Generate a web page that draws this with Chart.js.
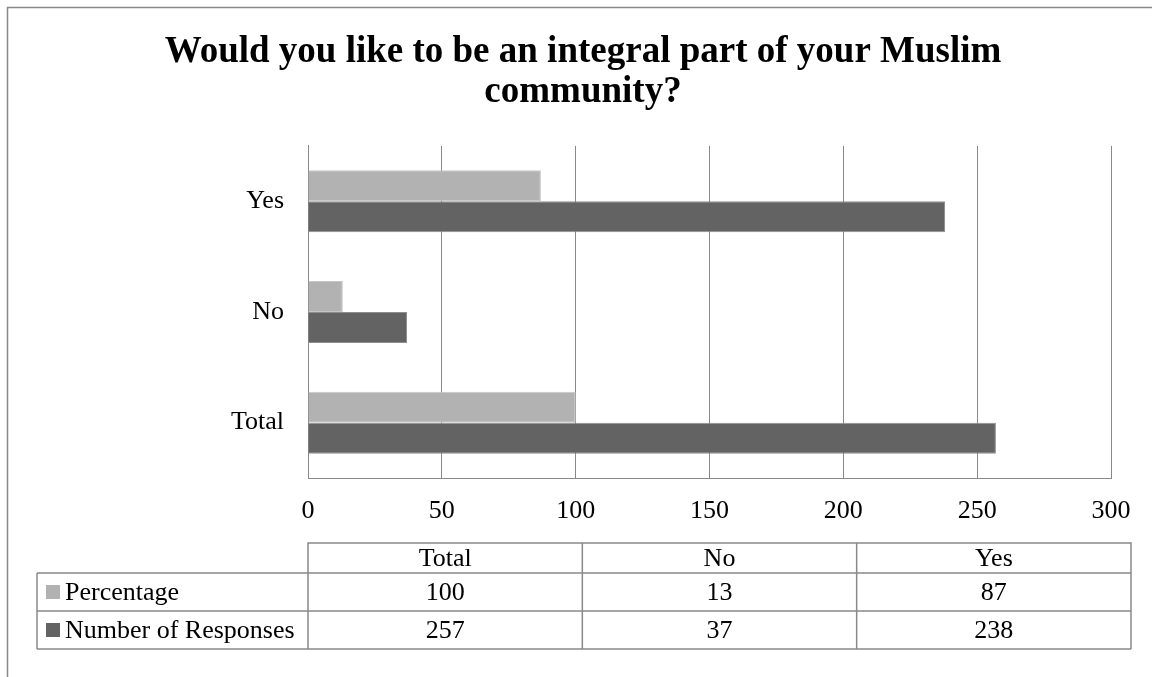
<!DOCTYPE html>
<html>
<head>
<meta charset="utf-8">
<title>Integral part of the Muslim community</title>
<script src="https://cdn.jsdelivr.net/npm/chart.js@4/dist/chart.umd.min.js"></script>
<style>
  html, body { margin: 0; padding: 0; background: #fff; }
  #wrap { width: 1152px; height: 677px; }
</style>
</head>
<body>
<div id="wrap"><canvas id="chart" width="1152" height="677"></canvas></div>
<script>
// survey answers, bottom to top on the chart and left to right in the table
const categories = ["Total", "No", "Yes"];
const percentage = [100, 13, 87];
const responses = [257, 37, 238];
const seriesNames = ["Percentage", "Number of Responses"];
const seriesColors = ["#b2b2b2", "#636363"];
const xTicks = [0, 50, 100, 150, 200, 250, 300];

const serif = "'Liberation Serif', 'Times New Roman', serif";
const lineColor = "#898989";

// open frame round the whole figure (top and left edges only)
const framePlugin = {
  id: "frame",
  beforeDraw(chart) {
    const ctx = chart.ctx;
    ctx.save();
    ctx.strokeStyle = lineColor;
    ctx.lineWidth = 1.5;
    ctx.beginPath();
    ctx.moveTo(7.5, chart.height);
    ctx.lineTo(7.5, 7.5);
    ctx.lineTo(chart.width, 7.5);
    ctx.stroke();
    ctx.restore();
  },
};

// data table under the x axis, with the legend keys in the first column
const tablePlugin = {
  id: "dataTable",
  afterDraw(chart) {
    const ctx = chart.ctx;
    const area = chart.chartArea;
    const left = area.left;
    const right = area.right + 20;
    const colW = (right - left) / categories.length;
    const top = chart.scales.x.bottom + 15;
    const headH = 30;
    const rowH = 38;
    const keyLeft = 37;
    const rows = [percentage, responses];
    const bottom = top + headH + rowH * rows.length;

    ctx.save();
    ctx.strokeStyle = lineColor;
    ctx.lineWidth = 1.5;
    ctx.beginPath();
    // header box
    ctx.moveTo(left, bottom);
    ctx.lineTo(left, top);
    ctx.lineTo(right, top);
    ctx.lineTo(right, bottom);
    // horizontal rules
    for (let r = 0; r <= rows.length; r++) {
      const y = top + headH + r * rowH;
      ctx.moveTo(keyLeft, y);
      ctx.lineTo(right, y);
    }
    ctx.moveTo(keyLeft, top + headH);
    ctx.lineTo(keyLeft, bottom);
    for (let c = 1; c < categories.length; c++) {
      ctx.moveTo(left + c * colW, top);
      ctx.lineTo(left + c * colW, bottom);
    }
    ctx.stroke();

    ctx.fillStyle = "#000";
    ctx.font = "26px " + serif;
    ctx.textBaseline = "middle";
    ctx.textAlign = "center";
    categories.forEach((cat, c) => {
      ctx.fillText(cat, left + colW * (c + 0.5), top + headH / 2 + 1);
    });
    rows.forEach((vals, r) => {
      const cy = top + headH + rowH * (r + 0.5) + 1;
      vals.forEach((v, c) => {
        ctx.fillText(String(v), left + colW * (c + 0.5), cy);
      });
      ctx.fillStyle = seriesColors[r];
      ctx.fillRect(keyLeft + 9, cy - 8, 14, 14);
      ctx.fillStyle = "#000";
      ctx.textAlign = "left";
      ctx.fillText(seriesNames[r], keyLeft + 28, cy);
      ctx.textAlign = "center";
    });
    ctx.restore();
  },
};

const ctx = document.getElementById("chart").getContext("2d");
new Chart(ctx, {
  type: "bar",
  data: {
    labels: categories,
    datasets: [
      {
        label: seriesNames[0],
        data: percentage,
        backgroundColor: seriesColors[0],
        borderColor: "#c6c6c6",
        borderWidth: 1,
      },
      {
        label: seriesNames[1],
        data: responses,
        backgroundColor: seriesColors[1],
        borderColor: "#8e8e8e",
        borderWidth: 1,
      },
    ],
  },
  options: {
    indexAxis: "y",
    responsive: false,
    animation: false,
    categoryPercentage: 0.56,
    barPercentage: 1,
    layout: { padding: { left: 55, right: 41, top: 0, bottom: 149 } },
    plugins: {
      legend: { display: false },
      tooltip: { enabled: false },
      title: {
        display: true,
        text: ["Would you like to be an integral part of your Muslim", "community?"],
        color: "#000",
        font: { family: serif, size: 37, weight: "bold", lineHeight: 1.08 },
        padding: { top: 32, bottom: 34 },
      },
    },
    scales: {
      x: {
        min: 0,
        max: 300,
        afterBuildTicks(scale) {
          scale.ticks = xTicks.map((v) => ({ value: v }));
        },
        afterFit(scale) {
          scale.height = 50;
        },
        grid: { color: lineColor, lineWidth: 1, drawTicks: false },
        border: { display: true, color: lineColor, width: 1 },
        ticks: {
          color: "#000",
          padding: 18,
          font: { family: serif, size: 26 },
        },
      },
      y: {
        reverse: true,
        afterFit(scale) {
          scale.width = 253;
        },
        grid: { display: false, drawTicks: false },
        border: { display: true, color: lineColor, width: 1 },
        ticks: {
          color: "#000",
          padding: 24,
          font: { family: serif, size: 26 },
        },
      },
    },
  },
  plugins: [framePlugin, tablePlugin],
});
</script>
</body>
</html>
